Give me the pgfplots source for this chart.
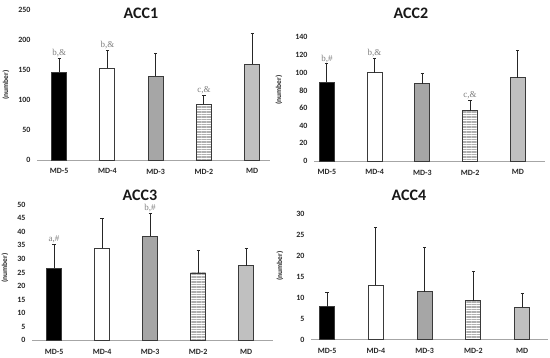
\documentclass[border=0pt]{standalone}
\usepackage{pgfplots}
\pgfplotsset{compat=1.18}
\usepackage{fontspec}
\setmainfont{Carlito}
\newfontfamily\serifann{Liberation Serif}
\usetikzlibrary{patterns.meta}
\definecolor{edge}{HTML}{3A3A3A}
\definecolor{gmid}{HTML}{A6A6A6}
\definecolor{glight}{HTML}{C0C0C0}
\definecolor{axisgray}{HTML}{A6A6A6}
\definecolor{anncol}{HTML}{7F7F7F}
\definecolor{stripe}{HTML}{B0B0B0}
\tikzset{ann/.style={font=\serifann\fontsize{9}{10}\selectfont, text=anncol, anchor=south, inner sep=0.5pt}}
\pgfplotsset{
  accbase/.style={
    scale only axis, anchor=south west,
    ymin=0, enlargelimits=false,
    axis x line*=bottom, axis y line*=left,
    x axis line style={draw=axisgray, line width=0.9pt, -},
    y axis line style={draw=none},
    tick style={draw=none},
    xtick={0,1,2,3,4},
    xticklabels={MD-5,MD-4,MD-3,MD-2,MD},
    ticklabel style={font=\bfseries\fontsize{8}{9}\selectfont, text=black!85},
    /pgf/number format/assume math mode=true,
    yticklabel style={xshift=-3pt},
    xticklabel style={yshift=-1pt},
    ybar, bar width=15pt,
    clip=false,
  },
  eb/.style={error bars/y dir=plus, error bars/y explicit,
    error bars/error bar style={line width=0.9pt, black!85},
    error bars/error mark options={rotate=90, mark size=1.6pt, line width=0.9pt, black!85}},
  b5/.style={fill=black, draw=edge, line width=0.9pt, bar shift=0pt, eb},
  b4/.style={fill=white, draw=edge, line width=0.9pt, bar shift=0pt, eb},
  b3/.style={fill=gmid, draw=edge, line width=0.9pt, bar shift=0pt, eb},
  b2/.style={pattern={Lines[angle=0,distance=2.5pt,line width=1.4pt]}, pattern color=stripe, draw=edge, line width=0.9pt, bar shift=0pt, eb},
  b1/.style={fill=glight, draw=edge, line width=0.9pt, bar shift=0pt, eb},
}
\begin{document}
\begin{tikzpicture}
\path[use as bounding box] (0,0) rectangle (550pt,357pt);
% ACC1
\begin{axis}[accbase, at={(37pt,197pt)}, width=233pt, height=150pt,
  xmin=-0.46, xmax=4.37, ymax=250, ytick={0,50,...,250}]
\addplot[b5] coordinates {(0,146) +- (0,24)};
\addplot[b4] coordinates {(1,153) +- (0,30)};
\addplot[b3] coordinates {(2,140) +- (0,37)};
\addplot[b2] coordinates {(3,93) +- (0,15)};
\addplot[b1] coordinates {(4,160) +- (0,51)};
\node[ann] at (axis cs:0,171) {b,\&};
\node[ann] at (axis cs:1,184) {b,\&};
\node[ann] at (axis cs:3,109) {c,\&};
\end{axis}
% ACC2
\begin{axis}[accbase, at={(314pt,196pt)}, width=231pt, height=123.7pt,
  xmin=-0.27, xmax=4.57, ymax=140, ytick={0,20,...,140}]
\addplot[b5] coordinates {(0,89) +- (0,21)};
\addplot[b4] coordinates {(1,100) +- (0,16)};
\addplot[b3] coordinates {(2,87.5) +- (0,11.5)};
\addplot[b2] coordinates {(3,57) +- (0,11.7)};
\addplot[b1] coordinates {(4,94) +- (0,31)};
\node[ann] at (axis cs:0,110.5) {b,\#};
\node[ann] at (axis cs:1,116.5) {b,\&};
\node[ann] at (axis cs:3,69) {c,\&};
\end{axis}
% ACC3
\begin{axis}[accbase, at={(32pt,16.7pt)}, width=241pt, height=135.7pt,
  xmin=-0.46, xmax=4.56, ymax=50, ytick={0,5,...,50}]
\addplot[b5] coordinates {(0,26.5) +- (0,8.8)};
\addplot[b4] coordinates {(1,33.9) +- (0,10.9)};
\addplot[b3] coordinates {(2,38.3) +- (0,8.4)};
\addplot[b2] coordinates {(3,24.8) +- (0,8.2)};
\addplot[b1] coordinates {(4,27.4) +- (0,6.4)};
\node[ann] at (axis cs:0,35.5) {a,\#};
\node[ann] at (axis cs:2,46.9) {b,\#};
\end{axis}
% ACC4
\begin{axis}[accbase, at={(311pt,17.3pt)}, width=237pt, height=125.7pt,
  xmin=-0.33, xmax=4.53, ymax=30, ytick={0,5,...,30}]
\addplot[b5] coordinates {(0,7.9) +- (0,3.3)};
\addplot[b4] coordinates {(1,13) +- (0,13.8)};
\addplot[b3] coordinates {(2,11.5) +- (0,10.4)};
\addplot[b2] coordinates {(3,9.3) +- (0,6.9)};
\addplot[b1] coordinates {(4,7.7) +- (0,3.3)};
\end{axis}
% titles
\begin{scope}[every node/.style={font=\bfseries\fontsize{16}{17}\selectfont, text=black!90, inner sep=0pt}]
\node at (141pt,344pt) {ACC1};
\node at (411pt,344pt) {ACC2};
\node at (140pt,162pt) {ACC3};
\node at (409pt,162pt) {ACC4};
\end{scope}
\begin{scope}[every node/.style={font=\bfseries\fontsize{7.5}{8}\selectfont, text=black!85, rotate=90}]
\node at (6pt,272pt) {(number)};
\node at (279pt,267pt) {(number)};
\node at (5pt,89pt) {(number)};
\node at (280pt,91pt) {(number)};
\end{scope}
\end{tikzpicture}
\end{document}
